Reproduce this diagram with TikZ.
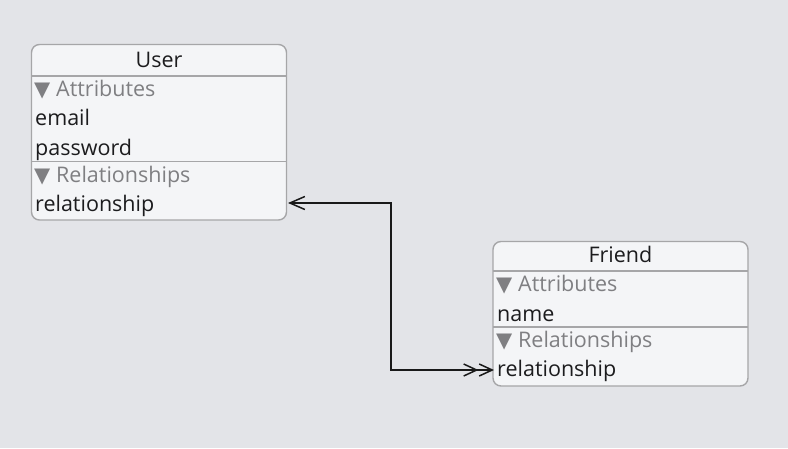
\documentclass[tikz,border=0pt]{standalone}
\usepackage{fontspec}
\setmainfont{Open Sans}
\newfontfamily\symfont{DejaVu Sans}
\usetikzlibrary{arrows.meta}
\definecolor{bgc}{HTML}{E3E4E8}
\definecolor{boxfill}{HTML}{F4F5F7}
\definecolor{boxline}{HTML}{A6A6A8}
\definecolor{txt}{HTML}{1C1C1E}
\definecolor{sect}{HTML}{7F7F82}
\tikzset{
  entity/.style={draw=boxline, fill=boxfill, line width=1.4pt, rounded corners=8pt},
  sep/.style={draw=boxline, line width=1.4pt},
  row/.style={anchor=base west, inner sep=0pt, text=txt, font=\fontsize{21.5}{24}\selectfont},
  title/.style={anchor=base, inner sep=0pt, text=txt, font=\fontsize{21.5}{24}\selectfont},
  section/.style={anchor=base west, inner sep=0pt, text=sect, font=\fontsize{21.5}{24}\selectfont},
  tri/.style={anchor=base west, inner sep=0pt, text=sect, font=\symfont\fontsize{21}{24}\selectfont},
  conn/.style={draw=black!90, line width=1.5pt},
}
\begin{document}
\begin{tikzpicture}[x=1pt,y=-1pt]
\fill[bgc] (0,0) rectangle (788,448);
\useasboundingbox (0,0) rectangle (788,448);
% User entity
\draw[entity] (31.5,44.5) rectangle (286.5,220);
\draw[sep] (31.5,76) -- (286.5,76);
\draw[sep] (31.5,161.5) -- (286.5,161.5);
\node[title] (utitle) at (159,67) {User};
\node[tri] (utri1) at (34,96) {▼};
\node[section] (uattr) at (56,96) {Attributes};
\node[row] (uemail) at (35,125) {email};
\node[row] (upass) at (35,155) {password};
\node[tri] (utri2) at (34,182) {▼};
\node[section] (urels) at (56,182) {Relationships};
\node[row] (urel) at (35,211) {relationship};
% Friend entity
\draw[entity] (493,241.5) rectangle (748,386);
\draw[sep] (493,271) -- (748,271);
\draw[sep] (493,327) -- (748,327);
\node[title] (ftitle) at (620.5,262) {Friend};
\node[tri] (ftri1) at (496,291) {▼};
\node[section] (fattr) at (518,291) {Attributes};
\node[row] (fname) at (497,321) {name};
\node[tri] (ftri2) at (496,347) {▼};
\node[section] (frels) at (518,347) {Relationships};
\node[row] (frel) at (497,376) {relationship};
% connector
\coordinate (ua) at (288,203);
\coordinate (fa) at (494,370);
\coordinate (mid) at (391,290);
\draw[conn, {Straight Barb[length=15pt,width=13pt,line width=1.5pt]}-{Straight Barb[length=13pt,width=12pt,line width=1.5pt]Straight Barb[length=13pt,width=12pt,line width=1.5pt]}] (ua) -| (mid) |- (fa);
\end{tikzpicture}
\end{document}
